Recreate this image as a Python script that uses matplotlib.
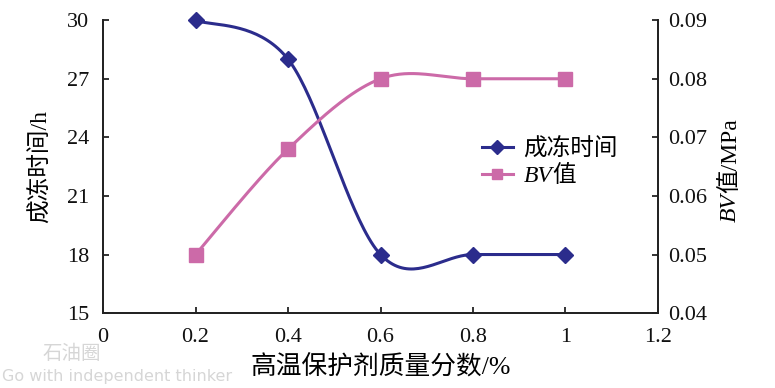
import numpy as np
import matplotlib
matplotlib.use("Agg")
import matplotlib.pyplot as plt
from matplotlib.lines import Line2D

plt.rcParams['font.family'] = ['Liberation Serif', 'Noto Sans CJK SC']

# data
x_vals = [0.2, 0.4, 0.6, 0.8, 1.0]
gel_time = [30, 28, 18, 18, 18]          # 成冻时间 / h
bv_vals = [0.05, 0.068, 0.08, 0.08, 0.08]  # BV值 / MPa
x_ticks = [0, 0.2, 0.4, 0.6, 0.8, 1.0, 1.2]
x_ticklabels = ['0', '0.2', '0.4', '0.6', '0.8', '1', '1.2']
left_ticks = [15, 18, 21, 24, 27, 30]
right_ticks = [0.04, 0.05, 0.06, 0.07, 0.08, 0.09]
right_ticklabels = ['0.04', '0.05', '0.06', '0.07', '0.08', '0.09']

BLUE = '#2b2c8c'
PINK = '#cc6aa8'
W, H = 775, 388


def smooth(xs, ys, n=40):
    # excel-like smoothed line (bezier through points, tension 1/6)
    p = np.column_stack([xs, ys]).astype(float)
    pts = np.vstack([p[0], p, p[-1]])
    out = []
    t = np.linspace(0, 1, n)[:, None]
    for i in range(1, len(pts) - 2):
        p0, p1 = pts[i], pts[i + 1]
        c1 = p0 + (pts[i + 1] - pts[i - 1]) / 6
        c2 = p1 - (pts[i + 2] - pts[i]) / 6
        seg = (1 - t) ** 3 * p0 + 3 * (1 - t) ** 2 * t * c1 + 3 * (1 - t) * t ** 2 * c2 + t ** 3 * p1
        out.append(seg)
    out = np.vstack(out)
    return out[:, 0], out[:, 1]


fig = plt.figure(figsize=(W / 100, H / 100), dpi=100)
ax = fig.add_axes([0.133, 0.193, 0.716, 0.755])
ax2 = ax.twinx()

sx, sy = smooth(x_vals, gel_time)
ax.plot(sx, sy, color=BLUE, lw=2.2, zorder=3)
ax.plot(x_vals, gel_time, ls='none', marker='D', ms=8, color=BLUE, zorder=4, clip_on=False)

bx, by = smooth(x_vals, bv_vals)
ax2.plot(bx, by, color=PINK, lw=2.2, zorder=3)
ax2.plot(x_vals, bv_vals, ls='none', marker='s', ms=9.5, color=PINK, zorder=4, clip_on=False)

ax.set_xlim(0, 1.2)
ax.set_ylim(15, 30)
ax2.set_ylim(0.04, 0.09)
ax.set_xticks(x_ticks)
ax.set_xticklabels(x_ticklabels)
ax.set_yticks(left_ticks)
ax2.set_yticks(right_ticks)
ax2.set_yticklabels(right_ticklabels)

for a in (ax, ax2):
    a.spines['top'].set_visible(False)
    for s in a.spines.values():
        s.set_linewidth(1.3)
        s.set_color('#222222')
ax.tick_params(axis='both', direction='in', length=4, width=1.2, labelsize=16, colors='#111111')
ax.tick_params(axis='y', pad=10)
ax.tick_params(axis='x', pad=11)
ax2.tick_params(axis='y', direction='in', length=4, width=1.2, labelsize=16, pad=7, colors='#111111')

ax.set_xlabel('高温保护剂质量分数/%', fontsize=18.5)
ax.xaxis.set_label_coords(0.5, -0.145)
ax.set_ylabel('成冻时间/h', fontsize=17)
ax.yaxis.set_label_coords(-0.092, 0.5)

handles = [Line2D([], [], color=BLUE, lw=2.2, marker='D', ms=7),
           Line2D([], [], color=PINK, lw=2.2, marker='s', ms=7)]
leg = ax.legend(handles, ['成冻时间', 'BV值'], loc='upper left',
                bbox_to_anchor=(482 / W, 1 - 138 / H), bbox_transform=fig.transFigure,
                frameon=False, fontsize=17, borderpad=0, borderaxespad=0,
                handlelength=1.3, handletextpad=0.45, labelspacing=0.2)

# italic "BV" in legend label and right axis label, drawn as separate pieces
fig.canvas.draw()
r = fig.canvas.get_renderer()
lt = leg.get_texts()[1]
lt.set_alpha(0)
lx, ly = lt.get_transform().transform(lt.get_position())
t_bv = fig.text(lx / W, ly / H, 'BV', fontsize=17, style='italic', ha='left', va='baseline')
bb = t_bv.get_window_extent(r)
fig.text(bb.x1 / W, ly / H, '值', fontsize=17, ha='left', va='baseline')

rx = 730
t1 = fig.text(rx / W, 0, 'BV', fontsize=17, style='italic', rotation=90, ha='center', va='bottom')
t2 = fig.text(rx / W, 0, '值/MPa', fontsize=17, rotation=90, ha='center', va='bottom')
h1 = t1.get_window_extent(r).height
h2 = t2.get_window_extent(r).height
y0 = (H - 170) - (h1 + h2) / 2
t1.set_y(y0 / H)
t2.set_y((y0 + h1) / H)

# watermark
fig.text(0.055, 0.075, '石油圈', fontsize=14, color='#d6d6d6', family=['Noto Sans CJK SC'])
fig.text(0.002, 0.018, 'Go with independent thinker', fontsize=11.5, color='#d6d6d6', family=['DejaVu Sans'])

fig.savefig('out.png', dpi=100)
